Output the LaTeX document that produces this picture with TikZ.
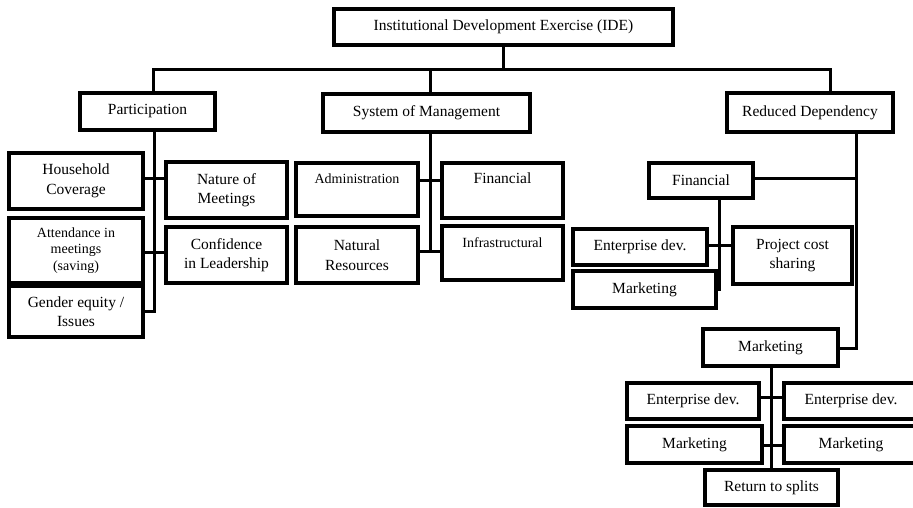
\documentclass[tikz,border=0pt]{standalone}
\usepackage{fontspec}
\setmainfont{Liberation Serif}
\begin{document}
\begin{tikzpicture}[x=1pt,y=-1pt,
  box/.style={draw,line width=3.2pt,inner sep=0pt,align=center,font=\fontsize{15.5}{19.5}\selectfont},
  smalltxt/.style={font=\fontsize{14}{16.5}\selectfont},
  conn/.style={line width=3pt}]
\newcommand\bx[7][]{\node[box,#1,minimum width={(#4-#2)*1pt},minimum height={(#5-#3)*1pt}] (#6) at ({(#2+#4)/2},{(#3+#5)/2}) {#7};}
\clip (0,0) rectangle (913,507);
\fill[white] (0,0) rectangle (913,507);
% boxes
\bx{334}{9}{673}{45}{ide}{Institutional Development Exercise (IDE)}
\bx{80}{93}{215}{130}{part}{Participation}
\bx{323}{94}{530}{132}{sys}{System of Management}
\bx{727}{93}{893}{132}{rd}{Reduced Dependency}
\bx{9}{153}{143}{209}{hh}{Household\\Coverage}
\bx{166}{162}{287}{218}{nat}{Nature of\\Meetings}
\bx[smalltxt]{9}{218}{143}{283}{att}{Attendance in\\meetings\\(saving)}
\bx{9}{286}{143}{337}{gen}{Gender equity /\\Issues}
\bx{166}{227}{287}{283}{conf}{Confidence\\in Leadership}
\bx[smalltxt]{296}{163}{418}{216}{adm}{Administration\\[0pt]\strut}
\bx{442}{163}{563}{218}{sfin}{Financial\\[0pt]\strut}
\bx{296}{227}{418}{283}{nres}{Natural\\Resources}
\bx[smalltxt]{442}{226}{563}{280}{inf}{Infrastructural\\[0pt]\strut}
\bx{649}{163}{753}{198}{rfin}{Financial}
\bx{573}{229}{707}{265}{ent}{Enterprise dev.}
\bx{733}{227}{852}{284}{pcs}{Project cost\\sharing}
\bx{573}{271}{716}{308}{rmk}{Marketing}
\bx{703}{329}{838}{366}{mkt}{Marketing}
\bx{627}{383}{759}{419}{ea}{Enterprise dev.}
\bx{784}{383}{918}{419}{eb}{Enterprise dev.}
\bx{627}{426}{762}{463}{ma}{Marketing}
\bx{784}{426}{918}{463}{mb}{Marketing}
\bx{705}{470}{838}{505}{ret}{Return to splits}
% joints
\coordinate (busL) at (153,69);
\coordinate (busR) at (830,69);
\coordinate (busM) at (430,69);
\coordinate (p1) at (154,178);
\coordinate (p2) at (154,252);
\coordinate (p3) at (154,311);
\coordinate (s1) at (430,180);
\coordinate (s2) at (430,251);
\coordinate (r1) at (856,178);
\coordinate (r2) at (856,348);
\coordinate (f1) at (719,245);
\coordinate (f2) at (719,289);
\coordinate (m1) at (771,397);
\coordinate (m2) at (771,445);
% connectors
\draw[conn] (ide.south) -- (ide.south |- busL);
\draw[conn] (busL |- part.north) -- (busL) -- (busR) -- (busR |- rd.north);
\draw[conn] (busM) -- (busM |- sys.north);
\draw[conn] (part.south -| p1) -- (p3) -- (p3 -| gen.east);
\draw[conn] (p1 -| hh.east) -- (p1 -| nat.west);
\draw[conn] (p2 -| att.east) -- (p2 -| conf.west);
\draw[conn] (sys.south -| s1) -- (s2);
\draw[conn] (s1 -| adm.east) -- (s1 -| sfin.west);
\draw[conn] (s2 -| nres.east) -- (s2 -| inf.west);
\draw[conn] (rd.south -| r1) -- (r2) -- (r2 -| mkt.east);
\draw[conn] (r1) -- (r1 -| rfin.east);
\draw[conn] (rfin.south -| f1) -- (f2) -- (f2 -| rmk.east);
\draw[conn] (f1 -| ent.east) -- (f1 -| pcs.west);
\draw[conn] (mkt.south -| m1) -- (m1 |- ret.north);
\draw[conn] (m1 -| ea.east) -- (m1 -| eb.west);
\draw[conn] (m2 -| ma.east) -- (m2 -| mb.west);
\end{tikzpicture}
\end{document}
